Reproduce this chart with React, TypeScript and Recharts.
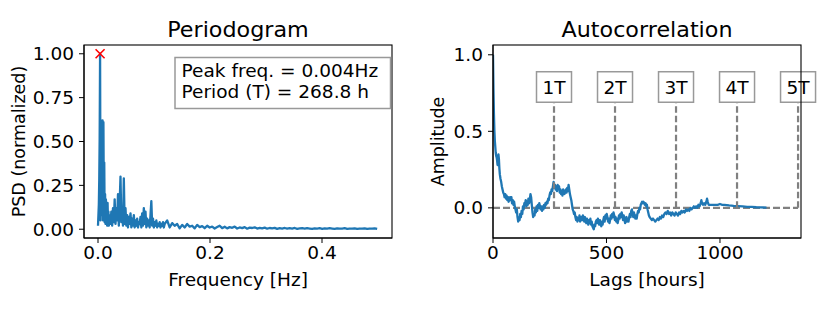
import React from 'react';
import { LineChart, Line, XAxis, YAxis, ReferenceLine, ReferenceDot } from 'recharts';

// ---------------- data ----------------
const N_SAMPLES = 1344; // hours in the series -> frequency bin = k / N
function range(start: number, end: number, step: number): number[] {
  const out: number[] = [];
  for (let v = start; v <= end; v += step) out.push(v);
  return out;
}
// frequency bins (categories)
const psdBins: number[] = [...range(0, 30, 1), ...range(32, 160, 2), ...range(166, 670, 6)];
// normalized PSD
const psdLow: number[] = [
  0.02, 0.08, 0.14, 0.28, 0.52, 1.0, 0.05, 0.62, 0.28, 0.61,
  0.08, 0.62, 0.05, 0.61, 0.14, 0.38, 0.04, 0.2, 0.03, 0.17,
  0.05, 0.12, 0.02, 0.15, 0.04, 0.1, 0.02, 0.08, 0.03, 0.06, 0.03,
];
const psdMid: number[] = [
  0.10, 0.02, 0.12, 0.04, 0.17, 0.03, 0.12, 0.05, 0.20, 0.02,
  0.15, 0.30, 0.04, 0.10, 0.02, 0.29, 0.03, 0.12, 0.02, 0.08,
  0.01, 0.07, 0.03, 0.09, 0.01, 0.06, 0.02, 0.08, 0.01, 0.05,
  0.02, 0.06, 0.01, 0.04, 0.03, 0.07, 0.01, 0.09, 0.02, 0.12,
  0.03, 0.10, 0.01, 0.06, 0.02, 0.05, 0.01, 0.08, 0.16, 0.02,
  0.06, 0.01, 0.04, 0.02, 0.05, 0.01, 0.03, 0.02, 0.04, 0.01,
  0.03, 0.02, 0.04, 0.01, 0.03,
];
const psdHigh: number[] = [
  0.05, 0.01, 0.035, 0.02, 0.03, 0.005, 0.025, 0.01, 0.03, 0.015,
  0.02, 0.005, 0.025, 0.012, 0.018, 0.006, 0.02, 0.01, 0.015, 0.004,
  0.012, 0.02, 0.006, 0.014, 0.005, 0.012, 0.008, 0.015, 0.004, 0.01,
  0.006, 0.012, 0.003, 0.009, 0.007, 0.011, 0.004, 0.008, 0.005, 0.009,
  0.003, 0.007, 0.005, 0.008, 0.002, 0.006, 0.004, 0.007, 0.003, 0.006,
  0.004, 0.007, 0.002, 0.005, 0.006, 0.003, 0.006, 0.004, 0.002, 0.005,
  0.004, 0.006, 0.002, 0.005, 0.003, 0.006, 0.004, 0.002, 0.005, 0.003,
  0.004, 0.006, 0.002, 0.004, 0.003, 0.005, 0.002, 0.004, 0.003, 0.005,
  0.002, 0.004, 0.003, 0.005, 0.002,
];
const psdValues: number[] = [...psdLow.slice(0, 31), ...psdMid, ...psdHigh];

const peakBin = 5;
const peakPsd = 1.0;
const periodHours = 268.8;
const periodMultiples = [1, 2, 3, 4, 5];
const infoLines = ['Peak freq. = 0.004Hz', 'Period (T) = 268.8 h'];

// autocorrelation: [lag (hours), amplitude]
const acfPoints: [number, number][] = [
  [0, 1.0], [2, 0.78], [4, 0.62], [6, 0.51], [8, 0.44], [10, 0.4], [12, 0.36], [14, 0.34], [16, 0.33], [18, 0.31],
  [20, 0.28], [22, 0.3], [24, 0.35], [26, 0.32], [28, 0.26], [30, 0.22], [33, 0.19], [36, 0.17], [39, 0.14], [42, 0.12],
  [45, 0.1], [48, 0.09], [51, 0.07], [54, 0.09], [57, 0.06], [60, 0.08], [63, 0.05], [66, 0.07], [69, 0.04], [72, 0.06],
  [75, 0.07], [78, 0.05], [81, 0.07], [84, 0.03], [87, 0.05], [90, 0.02], [93, 0.04], [96, 0.01], [99, -0.01], [102, -0.03],
  [105, -0.01], [108, -0.06], [111, -0.09], [114, -0.07], [117, -0.08], [120, -0.04], [123, -0.06], [126, -0.02], [129, -0.04], [132, 0.01],
  [135, -0.01], [138, 0.03], [141, 0.02], [144, 0.05], [147, 0.01], [150, 0.04], [153, 0.02], [156, 0.06], [159, 0.03], [162, 0.05],
  [165, 0.09], [168, 0.07], [171, 0.02], [174, -0.03], [177, -0.06], [180, -0.04], [183, -0.05], [186, -0.01], [189, -0.03], [192, 0.01],
  [195, -0.02], [198, 0.02], [201, 0.0], [204, 0.03], [207, 0.01], [210, -0.01], [213, 0.01], [216, -0.02], [219, 0.01], [222, -0.01],
  [225, 0.02], [228, 0.0], [231, 0.03], [234, 0.02], [237, 0.04], [240, 0.03], [243, 0.06], [246, 0.05], [249, 0.08], [252, 0.1],
  [255, 0.09], [258, 0.12], [261, 0.11], [264, 0.14], [267, 0.17], [270, 0.13], [273, 0.15], [276, 0.12], [279, 0.14], [282, 0.11],
  [285, 0.15], [288, 0.13], [291, 0.14], [294, 0.1], [297, 0.12], [300, 0.09], [303, 0.11], [306, 0.08], [309, 0.12], [312, 0.1],
  [315, 0.09], [318, 0.11], [321, 0.12], [324, 0.1], [327, 0.13], [330, 0.11], [333, 0.15], [336, 0.12], [339, 0.09], [342, 0.07],
  [345, 0.05], [348, 0.02], [351, -0.01], [354, -0.02], [357, -0.04], [360, -0.03], [363, -0.06], [366, -0.08], [369, -0.06], [372, -0.09],
  [375, -0.07], [378, -0.08], [381, -0.05], [384, -0.09], [387, -0.07], [390, -0.06], [393, -0.08], [396, -0.05], [399, -0.07], [402, -0.09],
  [405, -0.06], [408, -0.08], [411, -0.1], [414, -0.07], [417, -0.09], [420, -0.11], [423, -0.08], [426, -0.1], [429, -0.07], [432, -0.11],
  [435, -0.09], [438, -0.12], [441, -0.13], [444, -0.14], [447, -0.11], [450, -0.12], [453, -0.09], [456, -0.08], [459, -0.1], [462, -0.07],
  [465, -0.09], [468, -0.11], [471, -0.08], [474, -0.1], [477, -0.12], [480, -0.09], [483, -0.11], [486, -0.08], [489, -0.06], [492, -0.09],
  [495, -0.05], [498, -0.07], [501, -0.04], [504, -0.06], [507, -0.09], [510, -0.07], [513, -0.1], [516, -0.08], [519, -0.05], [522, -0.07],
  [525, -0.04], [528, -0.06], [531, -0.03], [534, -0.05], [537, -0.08], [540, -0.06], [543, -0.09], [546, -0.07], [549, -0.1], [552, -0.08],
  [555, -0.05], [558, -0.07], [561, -0.04], [564, -0.06], [567, -0.03], [570, -0.05], [573, -0.08], [576, -0.05], [579, -0.07], [582, -0.1],
  [585, -0.08], [588, -0.06], [591, -0.09], [594, -0.07], [597, -0.09], [600, -0.06], [603, -0.04], [606, -0.06], [609, -0.02], [612, -0.01],
  [615, -0.04], [618, -0.06], [621, -0.03], [624, -0.05], [627, -0.07], [630, -0.05], [633, -0.07], [636, -0.04], [639, -0.02], [642, -0.03],
  [645, 0.0], [648, -0.01], [651, 0.02], [654, 0.03], [657, 0.04], [660, 0.03], [663, 0.04], [666, 0.03], [669, 0.02], [672, 0.03],
  [675, 0.01], [678, 0.02], [681, -0.01], [684, -0.03], [687, -0.05], [690, -0.06], [695, -0.07], [700, -0.08], [705, -0.07], [710, -0.08],
  [715, -0.09], [720, -0.08], [725, -0.07], [730, -0.08], [735, -0.06], [740, -0.07], [745, -0.05], [750, -0.06], [755, -0.04], [760, -0.03],
  [765, -0.04], [770, -0.02], [775, -0.04], [780, -0.03], [785, -0.05], [790, -0.03], [795, -0.04], [800, -0.05], [805, -0.03], [810, -0.04],
  [815, -0.05], [820, -0.03], [825, -0.04], [830, -0.02], [835, -0.03], [840, -0.02], [845, -0.03], [850, -0.01], [855, -0.02], [860, -0.01],
  [865, -0.02], [870, 0.0], [875, -0.01], [880, 0.0], [885, 0.01], [890, 0.0], [895, 0.01], [900, 0.0], [905, 0.02], [910, 0.01],
  [915, 0.03], [918, 0.05], [921, 0.03], [925, 0.02], [930, 0.03], [935, 0.02], [940, 0.04], [943, 0.06], [946, 0.04], [950, 0.02],
  [955, 0.02], [960, 0.02], [970, 0.02], [980, 0.02], [990, 0.02], [1000, 0.025], [1010, 0.02], [1020, 0.02], [1030, 0.018], [1040, 0.016],
  [1050, 0.015], [1060, 0.013], [1080, 0.011], [1100, 0.009], [1120, 0.007], [1140, 0.006], [1160, 0.004], [1180, 0.003], [1205, 0.002],
];

const psdTicks = [0, 0.2, 0.4];
const psdYTicks = [0, 0.25, 0.5, 0.75, 1.0];
const lagTicks = [0, 500, 1000];
const ampTicks = [0, 0.5, 1.0];

// ---------------- tables built from the data ----------------
const periodogramData = psdBins
  .map((b, i) => ({ f: b / N_SAMPLES, p: psdValues[i] }))
  .filter((d) => d.p !== undefined);
const acfData = acfPoints.map(([lag, v]) => ({ lag, v }));
const peakFreq = peakBin / N_SAMPLES;

// ---------------- styling / layout ----------------
const FONT = '"DejaVu Sans", sans-serif';
const FS = 17.5;
const SX = 1.06; // horizontal stretch of text seen in the reference
const BLUE = '#1f77b4';
const GRAY = '#808080';
const LW = 2.3;
const W = 830;
const H = 312;
const TOP = 45;
const BOTTOM = 238;
const LBOX = { left: 84, right: 392 };
const RBOX = { left: 493, right: 801 };
const RX = 410; // x offset of right chart

const makeXTick = (fmt: (v: number) => string) => (props: any) => {
  const { x, y, payload } = props;
  return (
    <text
      transform={`translate(${x},${y + 16}) scale(${SX},1)`}
      textAnchor="middle"
      fontFamily={FONT}
      fontSize={FS}
      fill="#000"
    >
      {fmt(payload.value)}
    </text>
  );
};
const makeYTick = (fmt: (v: number) => string) => (props: any) => {
  const { x, y, payload } = props;
  return (
    <text
      transform={`translate(${x - 5},${y + 6.4}) scale(${SX},1)`}
      textAnchor="end"
      fontFamily={FONT}
      fontSize={FS}
      fill="#000"
    >
      {fmt(payload.value)}
    </text>
  );
};

const XMark = (props: any) => {
  const { cx, cy } = props;
  const s = 4.5;
  return (
    <g stroke="red" strokeWidth={1.6}>
      <line x1={cx - s} y1={cy - s} x2={cx + s} y2={cy + s} />
      <line x1={cx - s} y1={cy + s} x2={cx + s} y2={cy - s} />
    </g>
  );
};

const makePeriodLabel = (text: string) => (props: any) => {
  const { cx, cy } = props;
  return (
    <g>
      <rect x={cx - 17.5} y={cy - 30.5} width={35} height={30.5} fill="#fff" stroke="#999" strokeWidth={1.5} />
      <text
        transform={`translate(${cx},${cy - 8.5}) scale(${SX},1)`}
        textAnchor="middle"
        fontFamily={FONT}
        fontSize={FS}
        fill="#000"
      >
        {text}
      </text>
    </g>
  );
};

const HText = ({ x, y, children, size = FS, anchor = 'middle' }: any) => (
  <text
    transform={`translate(${x},${y}) scale(${SX},1)`}
    textAnchor={anchor}
    fontFamily={FONT}
    fontSize={size}
    fill="#000"
  >
    {children}
  </text>
);

export default function App() {
  return (
    <div style={{ position: 'absolute', left: 0, top: 0, width: W, height: H, background: '#fff', overflow: 'hidden' }}>
      <div style={{ position: 'absolute', left: 0, top: 0 }}>
        <LineChart
          width={RX}
          height={H}
          data={periodogramData}
          margin={{ top: TOP, right: RX - LBOX.right, bottom: 0, left: 0 }}
        >
          <XAxis
            dataKey="f"
            type="number"
            domain={[-0.025, 0.525]}
            ticks={psdTicks}
            height={H - BOTTOM}
            tickSize={5}
            tickMargin={0}
            axisLine={{ stroke: '#000' }}
            tickLine={{ stroke: '#000' }}
            tick={makeXTick((v) => v.toFixed(1))}
            allowDataOverflow
          />
          <YAxis
            type="number"
            domain={[-0.05, 1.05]}
            ticks={psdYTicks}
            width={LBOX.left}
            tickSize={5}
            tickMargin={0}
            axisLine={{ stroke: '#000' }}
            tickLine={{ stroke: '#000' }}
            tick={makeYTick((v) => v.toFixed(2))}
            allowDataOverflow
          />
          <Line
            dataKey="p"
            stroke={BLUE}
            strokeWidth={LW}
            dot={false}
            isAnimationActive={false}
            strokeLinejoin="round"
          />
          <ReferenceDot x={peakFreq} y={peakPsd} shape={XMark} ifOverflow="visible" />
        </LineChart>
      </div>
      <div style={{ position: 'absolute', left: RX, top: 0 }}>
        <LineChart
          width={W - RX}
          height={H}
          data={acfData}
          margin={{ top: TOP, right: W - RBOX.right, bottom: 0, left: 0 }}
        >
          <XAxis
            dataKey="lag"
            type="number"
            domain={[0, 1357]}
            ticks={lagTicks}
            height={H - BOTTOM}
            tickSize={5}
            tickMargin={0}
            axisLine={{ stroke: '#000' }}
            tickLine={{ stroke: '#000' }}
            tick={makeXTick((v) => String(v))}
            allowDataOverflow
          />
          <YAxis
            type="number"
            domain={[-0.197, 1.064]}
            ticks={ampTicks}
            width={RBOX.left - RX}
            tickSize={5}
            tickMargin={0}
            axisLine={{ stroke: '#000' }}
            tickLine={{ stroke: '#000' }}
            tick={makeYTick((v) => v.toFixed(1))}
            allowDataOverflow
          />
          <ReferenceLine
            segment={[{ x: 0, y: 0 }, { x: periodHours * 5, y: 0 }]}
            stroke={GRAY}
            strokeWidth={2.2}
            strokeDasharray="7 3"
            ifOverflow="visible"
          />
          <Line
            dataKey="v"
            stroke={BLUE}
            strokeWidth={LW}
            dot={false}
            isAnimationActive={false}
            strokeLinejoin="round"
          />
          {periodMultiples.map((k) => (
            <ReferenceLine
              key={`l${k}`}
              segment={[{ x: periodHours * k, y: 0 }, { x: periodHours * k, y: 0.69 }]}
              stroke={GRAY}
              strokeWidth={2.2}
              strokeDasharray="6.5 3"
              ifOverflow="visible"
            />
          ))}
          {periodMultiples.map((k) => (
            <ReferenceDot
              key={`d${k}`}
              x={periodHours * k}
              y={0.69}
              shape={makePeriodLabel(`${k}T`)}
              ifOverflow="visible"
            />
          ))}
        </LineChart>
      </div>
      <svg
        width={W}
        height={H}
        style={{ position: 'absolute', left: 0, top: 0, pointerEvents: 'none' }}
      >
        <rect x={LBOX.left} y={TOP} width={LBOX.right - LBOX.left} height={BOTTOM - TOP} fill="none" stroke="#000" strokeWidth={1.1} />
        <rect x={RBOX.left} y={TOP} width={RBOX.right - RBOX.left} height={BOTTOM - TOP} fill="none" stroke="#000" strokeWidth={1.1} />
        <HText x={(LBOX.left + LBOX.right) / 2} y={37} size={21}>Periodogram</HText>
        <HText x={(RBOX.left + RBOX.right) / 2} y={37} size={21}>Autocorrelation</HText>
        <HText x={(LBOX.left + LBOX.right) / 2} y={286}>Frequency [Hz]</HText>
        <HText x={(RBOX.left + RBOX.right) / 2} y={286}>Lags [hours]</HText>
        <text
          transform={`translate(25,${(TOP + BOTTOM) / 2}) rotate(-90)`}
          textAnchor="middle"
          fontFamily={FONT}
          fontSize={FS}
          fill="#000"
        >
          PSD (normalized)
        </text>
        <text
          transform={`translate(444,${(TOP + BOTTOM) / 2}) rotate(-90)`}
          textAnchor="middle"
          fontFamily={FONT}
          fontSize={FS}
          fill="#000"
        >
          Amplitude
        </text>
        <rect x={175} y={57.5} width={215.5} height={51} fill="#fff" stroke="#999" strokeWidth={1.5} />
        <HText x={181.5} y={76.5} anchor="start">{infoLines[0]}</HText>
        <HText x={181.5} y={97.5} anchor="start">{infoLines[1]}</HText>
      </svg>
    </div>
  );
}
